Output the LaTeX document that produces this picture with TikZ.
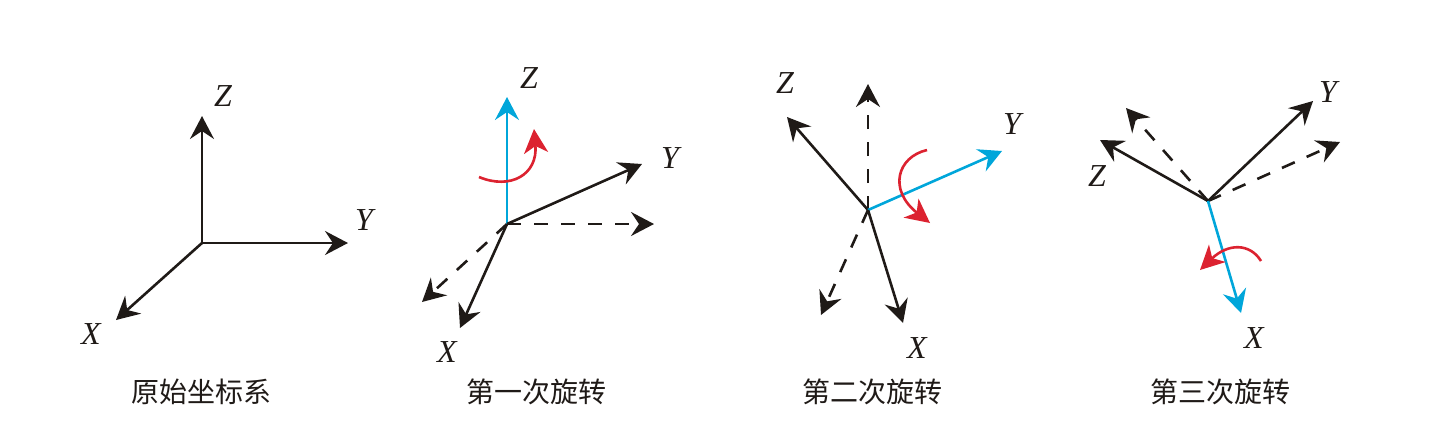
\documentclass[tikz,border=0pt]{standalone}
\usepackage{fontspec}
\setmainfont{Liberation Serif}
\newfontfamily\cjk{Noto Sans CJK SC}
\usetikzlibrary{arrows.meta}
\definecolor{axk}{HTML}{1F1A17}
\definecolor{axb}{HTML}{00A6DA}
\definecolor{axr}{HTML}{DC2230}
\tikzset{
  axis/.style={draw=axk,line width=1.3pt,-{Stealth[length=11.5pt,width=12pt,inset=4pt]}},
  ghost/.style={axis,dash pattern=on 7pt off 6.5pt},
  spin/.style={axis,draw=axb},
  turn/.style={draw=axr,line width=1.3pt,-{Stealth[length=12pt,width=12pt,inset=3.5pt]}},
  letter/.style={inner sep=0pt,font=\fontsize{16}{16}\selectfont\itshape,text=axk},
  caption/.style={inner sep=0pt,font=\cjk\fontsize{14}{14}\selectfont,text=axk}
}
\begin{document}
\begin{tikzpicture}[x=0.5pt,y=-0.5pt]
\useasboundingbox (0,0) rectangle (1434,436);
% panel 1
\coordinate (oa) at (202,243);
\coordinate (az) at (202,116);
\coordinate (ay) at (348,243);
\coordinate (ax) at (116,320);
\draw[axis] (oa) -- (az);
\draw[axis] (oa) -- (ay);
\draw[axis] (oa) -- (ax);
\node[letter] (lza) at (223,96) {Z};
\node[letter] (lya) at (364,220) {Y};
\node[letter] (lxa) at (91,334) {X};
\node[caption] (ca) at (201,392) {原始坐标系};
% panel 2
\coordinate (ob) at (507,224);
\coordinate (bz) at (507,97);
\coordinate (by) at (642,164);
\coordinate (bx) at (460,328);
\coordinate (bgy) at (654,224);
\coordinate (bgx) at (422,302);
\draw[ghost] (ob) -- (bgy);
\draw[ghost] (ob) -- (bgx);
\draw[spin] (ob) -- (bz);
\draw[axis] (ob) -- (by);
\draw[axis] (ob) -- (bx);
\draw[turn] (479,177) .. controls (510,190) and (538,175) .. (534,129);
\node[letter] (lzb) at (529,78) {Z};
\node[letter] (lyb) at (670,158) {Y};
\node[letter] (lxb) at (447,352) {X};
\node[caption] (cb) at (536,392) {第一次旋转};
% panel 3
\coordinate (oc) at (868,210);
\coordinate (cz) at (787,117);
\coordinate (cy) at (1002,151);
\coordinate (cx) at (903,323);
\coordinate (cgz) at (868,84);
\coordinate (cgx) at (821,315);
\draw[ghost] (oc) -- (cgz);
\draw[ghost] (oc) -- (cgx);
\draw[axis] (oc) -- (cz);
\draw[spin] (oc) -- (cy);
\draw[axis] (oc) -- (cx);
\draw[turn] (927,150) .. controls (897,157) and (888,190) .. (930,223);
\node[letter] (lzc) at (785,83) {Z};
\node[letter] (lyc) at (1012,124) {Y};
\node[letter] (lxc) at (917,348) {X};
\node[caption] (cc) at (872,392) {第二次旋转};
% panel 4
\coordinate (od) at (1208,201);
\coordinate (dz) at (1100,140);
\coordinate (dy) at (1313,101);
\coordinate (dx) at (1241,313);
\coordinate (dgz) at (1126,108);
\coordinate (dgy) at (1340,142);
\draw[ghost] (od) -- (dgz);
\draw[ghost] (od) -- (dgy);
\draw[axis] (od) -- (dz);
\draw[axis] (od) -- (dy);
\draw[spin] (od) -- (dx);
\draw[turn] (1261,261) .. controls (1250,243) and (1228,243) .. (1200,270);
\node[letter] (lzd) at (1097,176) {Z};
\node[letter] (lyd) at (1328,92) {Y};
\node[letter] (lxd) at (1254,338) {X};
\node[caption] (cd) at (1220,392) {第三次旋转};
\end{tikzpicture}
\end{document}
